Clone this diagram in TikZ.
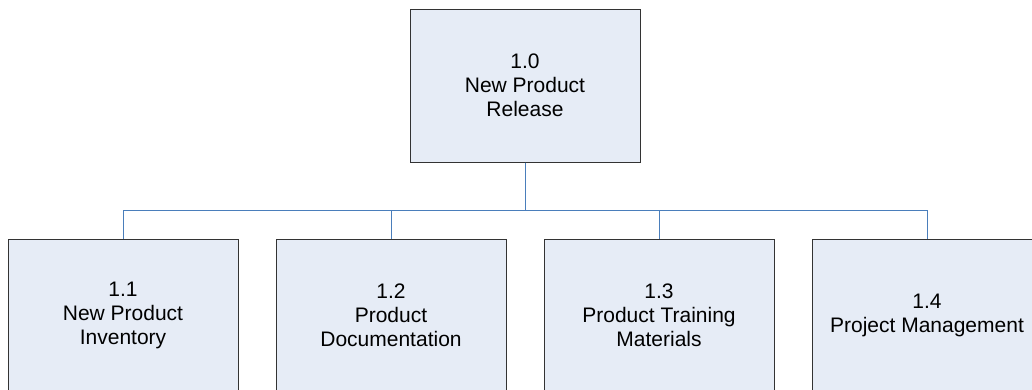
\documentclass[tikz,border=0pt]{standalone}
\usepackage{fontspec}
\setmainfont{Liberation Sans}
\usepackage{xcolor}
\usepackage{tikz}
\usetikzlibrary{positioning, calc}

\definecolor{boxfill}{HTML}{E6ECF6}
\definecolor{linkblue}{HTML}{4A7EBB}

\begin{document}
\begin{tikzpicture}[x=1pt, y=1pt,
    box/.style={draw=black!80, fill=boxfill, line width=1pt, minimum width=230pt, minimum height=153pt, align=center, font=\fontsize{21}{24}\selectfont, inner sep=0pt},
    link/.style={draw=linkblue, line width=1pt}
]
    \useasboundingbox (0,0) rectangle (1032,-389);
    \node[box] at (525,-85.5) (release) {1.0\\New Product\\Release};
    \node[box] at (123,-315.5) (inventory) {1.1\\New Product\\Inventory};
    \node[box] at (391,-315.5) (docs) {1.2\\Product\\Documentation};
    \node[box] at (659,-315.5) (training) {1.3\\Product Training\\Materials};
    \node[box] at (927,-315.5) (pm) {1.4\\Project Management};
    \draw[link] (release.south) -- ++(0,-48) -| (inventory.north);
    \draw[link] (release.south) -- ++(0,-48) -| (docs.north);
    \draw[link] (release.south) -- ++(0,-48) -| (training.north);
    \draw[link] (release.south) -- ++(0,-48) -| (pm.north);
\end{tikzpicture}
\end{document}
